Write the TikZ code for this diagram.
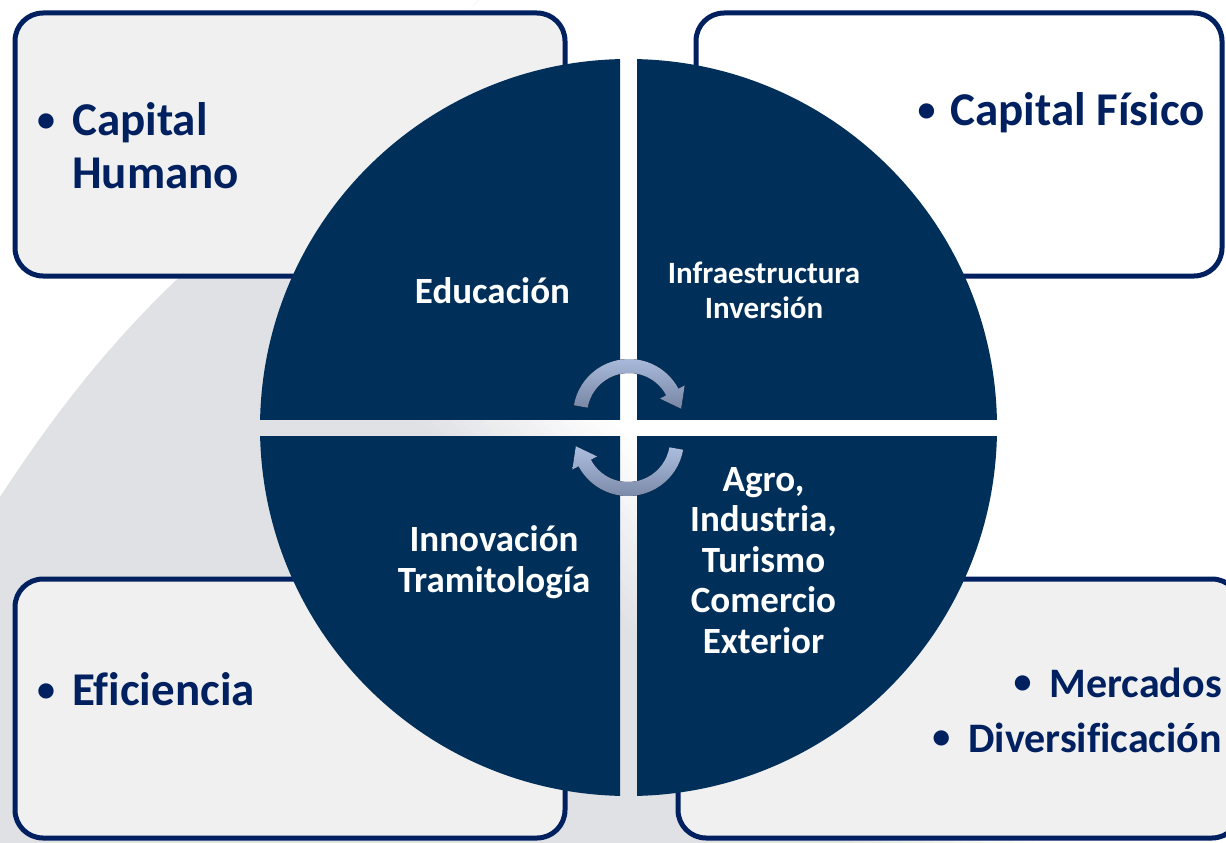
\documentclass[tikz,border=0pt]{standalone}
\usepackage{fontspec}
\setmainfont{Carlito}[Ligatures=NoCommon]
\usetikzlibrary{calc}
\definecolor{navy}{RGB}{0,48,90}
\definecolor{boxline}{RGB}{0,32,96}
\definecolor{bggrey}{RGB}{224,225,229}
\definecolor{boxfill}{RGB}{240,240,240}
\definecolor{arrlight}{RGB}{172,190,224}
\definecolor{arrdark}{RGB}{120,134,164}
\newcommand{\bul}{\raisebox{3.5pt}{\fontsize{36}{36}\selectfont •}}
\begin{document}
\begin{tikzpicture}[x=1pt,y=-1pt,
  infobox/.style={draw=boxline, line width=5pt, rounded corners=28pt, inner sep=0pt},
  boxtext/.style={text=boxline, font=\fontsize{47}{53}\selectfont\bfseries, inner sep=0pt},
  circtext/.style={text=white, font=\fontsize{37}{40.5}\selectfont\bfseries, align=center, inner sep=0pt},
  cyclearrow/.style={top color=arrlight, bottom color=arrdark, draw=none}]

\useasboundingbox (0,0) rectangle (1226,843);
\fill[white] (0,0) rectangle (1226,843);

% grey background wedge fading towards the upper right
\begin{scope}
  \clip (0,843) -- (0,497) .. controls (60,405) and (120,330) .. (200,258)
        -- (480,0) -- (1226,0) -- (1226,843) -- cycle;
  \fill[bggrey] (0,0) rectangle (1226,843);
  \foreach \k in {0,...,19}{
    \pgfmathsetmacro\a{\k*10}
    \pgfmathsetmacro\p{100-5*(\k+1)}
    \fill[bggrey!\p!white] (\a-1000,-1000) -- (\a+2000,2000) -- (5000,2000) -- (5000,-1000) -- cycle;
  }
\end{scope}

% boxes
\node[infobox, fill=boxfill, minimum width=550pt, minimum height=263pt] (tlbox) at (290,144.5) {};
\node[infobox, fill=white, minimum width=526pt, minimum height=263pt] (trbox) at (959,144.5) {};
\node[infobox, fill=boxfill, minimum width=550pt, minimum height=259pt] (blbox) at (290,708.5) {};
\node[infobox, fill=boxfill, minimum width=562pt, minimum height=259pt] (brbox) at (959,708.5) {};

% circle in four quadrants
\coordinate (O) at (628.5,427.5);
\begin{scope}
  \clip (0,0) rectangle (620,419);
  \fill[navy] (O) circle[radius=368.5];
\end{scope}
\begin{scope}
  \clip (637,0) rectangle (1226,419);
  \fill[navy] (O) circle[radius=368.5];
\end{scope}
\begin{scope}
  \clip (0,436) rectangle (620,843);
  \fill[navy] (O) circle[radius=368.5];
\end{scope}
\begin{scope}
  \clip (637,436) rectangle (1226,843);
  \fill[navy] (O) circle[radius=368.5];
\end{scope}

% cycle arrows
\coordinate (C1) at (629,415);
\coordinate (C2) at (628,440);
\fill[cyclearrow] ($(C1)+(-170:56)$) arc[start angle=-170, end angle=-28, radius=56]
  -- ($(C1)+(-28:63)$) -- ($(C1)+(-28:49)+(62:19)$) -- ($(C1)+(-28:35)$)
  -- ($(C1)+(-28:42)$) arc[start angle=-28, end angle=-170, radius=42] -- cycle;
\fill[cyclearrow] ($(C2)+(10:56)$) arc[start angle=10, end angle=152, radius=56]
  -- ($(C2)+(152:63)$) -- ($(C2)+(152:49)+(242:19)$) -- ($(C2)+(152:35)$)
  -- ($(C2)+(152:42)$) arc[start angle=152, end angle=10, radius=42] -- cycle;

% circle texts (base anchor = baseline of the last line)
\node[circtext, anchor=base] (edu) at (492.5,303) {Educación};
\node[circtext, font=\fontsize{31}{35}\selectfont\bfseries, anchor=base] (infra) at (764,318) {Infraestructura\\Inversión};
\node[circtext, anchor=base] (inno) at (494,592) {Innovación\\Tramitología};
\node[circtext, anchor=base] (agro) at (763.5,653) {Agro,\\Industria,\\Turismo\\Comercio\\Exterior};

% box texts
\node[boxtext, anchor=base west, align=left] (ch) at (72,188) {\llap{\makebox[0pt]{\bul}\hspace{26pt}}Capital\\Humano};
\node[boxtext, anchor=base east] (cf) at (1205,125) {\makebox[0pt]{\bul}\hspace{24pt}Capital Físico};
\node[boxtext, anchor=base west] (ef) at (72,705) {\llap{\makebox[0pt]{\bul}\hspace{26pt}}Eficiencia};
\node[boxtext, font=\fontsize{42}{55}\selectfont\bfseries, anchor=base east, align=right] (md) at (1222,752)
  {\makebox[0pt]{\bul}\hspace{27pt}Mercados\\\makebox[0pt]{\bul}\hspace{27pt}Diversificación};
\end{tikzpicture}
\end{document}
